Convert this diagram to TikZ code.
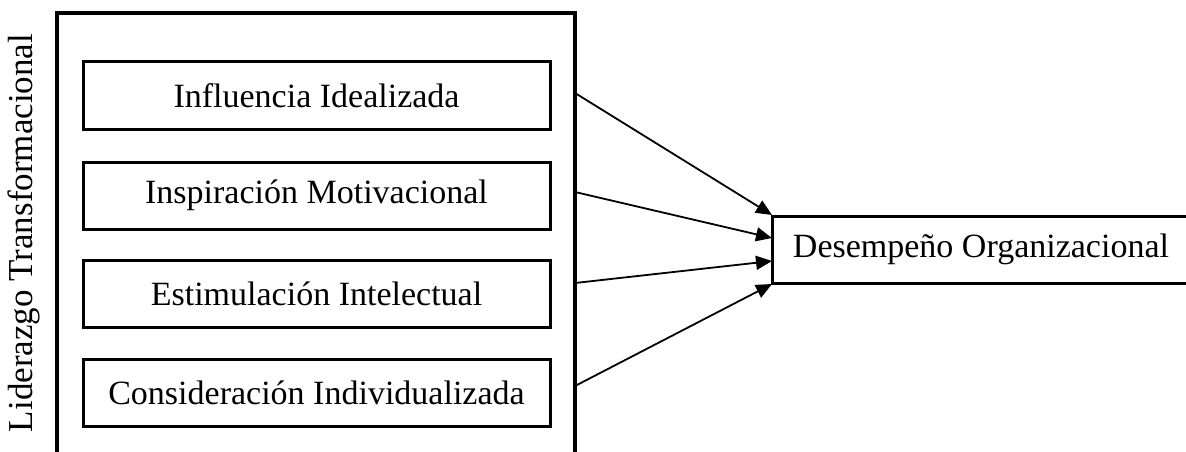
\documentclass[tikz,border=0pt]{standalone}
\usepackage{fontspec}
\setmainfont{Liberation Serif}
\usetikzlibrary{arrows.meta}
\begin{document}
\begin{tikzpicture}[x=1pt,y=-1pt,
  inbox/.style={draw,line width=3pt,minimum width=467pt,minimum height=67pt,inner sep=0pt,font=\fontsize{34}{40}\selectfont},
  outbox/.style={draw,line width=3pt,minimum width=418pt,minimum height=67pt,inner sep=0pt,font=\fontsize{34}{40}\selectfont},
  arr/.style={line width=1.8pt,-{Triangle[length=16pt,width=14pt]}}]
\useasboundingbox (0,0) rectangle (1186,452);
\clip (0,0) rectangle (1186,452);
\draw[line width=3.5pt] (57,480) -- (57,13) -- (575,13) -- (575,480);
\node[rotate=90,font=\fontsize{35}{40}\selectfont] (lt) at (24,233) {Liderazgo Transformacional};
\node[inbox] (b1) at (316.5,95.5) {Influencia Idealizada};
\node[inbox] (b2) at (316.5,195.5) {Inspiración Motivacional};
\node[inbox] (b3) at (316.5,293.5) {Estimulación Intelectual};
\node[inbox] (b4) at (316.5,393) {Consideración Individualizada};
\node[outbox] (d) at (981,249.5) {Desempeño Organizacional};
\coordinate (s1) at (575,93);
\coordinate (s2) at (575,192);
\coordinate (s3) at (575,283);
\coordinate (s4) at (575,386);
\coordinate (t1) at (772,215);
\coordinate (t2) at (772,238);
\coordinate (t3) at (772,261);
\coordinate (t4) at (772,284);
\draw[arr] (s1) -- (t1);
\draw[arr] (s2) -- (t2);
\draw[arr] (s3) -- (t3);
\draw[arr] (s4) -- (t4);
\end{tikzpicture}
\end{document}
